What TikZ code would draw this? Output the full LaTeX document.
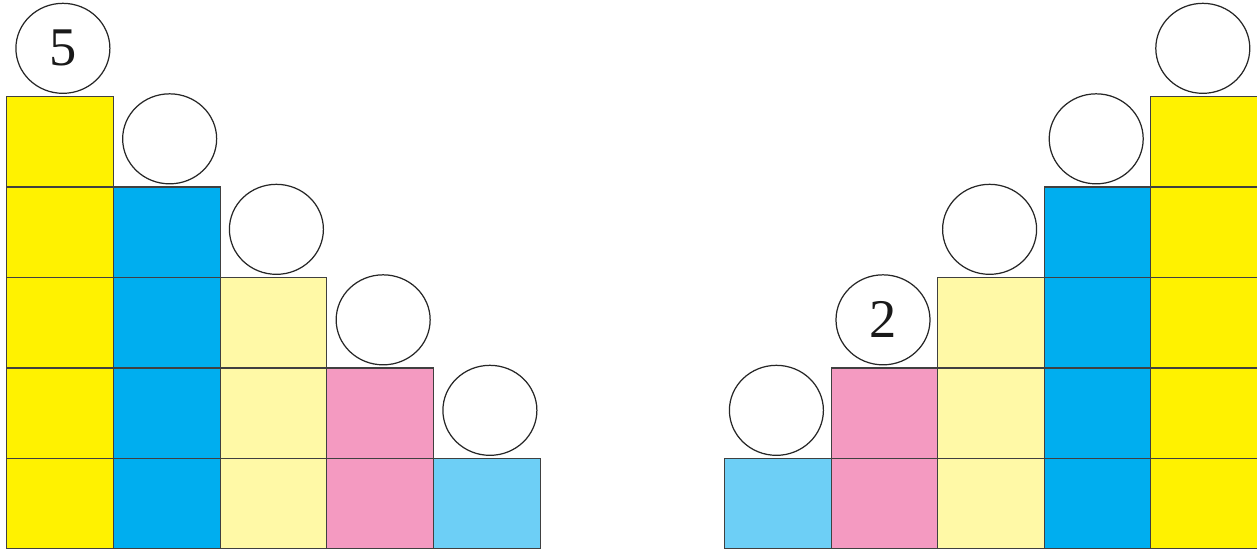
\documentclass[tikz,border=0pt]{standalone}
\usepackage{fontspec}
\setmainfont{Liberation Serif}
\usetikzlibrary{positioning, shapes.geometric}
\definecolor{cubeyellow}{RGB}{255, 242, 0}
\definecolor{cubeblue}{RGB}{0, 174, 239}
\definecolor{paleyellow}{RGB}{255, 249, 166}
\definecolor{cubepink}{RGB}{244, 154, 193}
\definecolor{skyblue}{RGB}{109, 207, 246}
\begin{document}
\begin{tikzpicture}[
  cell/.style={rectangle, draw=black!75, line width=0.6pt, minimum width=2.135cm, minimum height=1.81cm,
    inner sep=0pt, anchor=south west},
  ball/.style={ellipse, draw=black!85, line width=0.7pt, minimum width=1.88cm, minimum height=1.8cm,
    inner sep=0pt},
  given/.style={font=\fontsize{31}{32}\selectfont, text=black!90},
  node distance=0.04cm
]
\useasboundingbox (0,0) rectangle (25.14,10.96);

% Left staircase: tallest column first
\foreach \col/\h/\clr in {0/5/cubeyellow, 1/4/cubeblue, 2/3/paleyellow, 3/2/cubepink, 4/1/skyblue} {
  \foreach \row in {1,...,\h} {
    \node[cell, fill=\clr] (l\col-\row) at ({0.12+2.135*\col}, {-0.03+1.81*(\row-1)}) {};
  }
  \node[ball, above=of l\col-\h, xshift=0.06cm] (lb\col) {};
}

% Right staircase: shortest column first
\foreach \col/\h/\clr in {0/1/skyblue, 1/2/cubepink, 2/3/paleyellow, 3/4/cubeblue, 4/5/cubeyellow} {
  \foreach \row in {1,...,\h} {
    \node[cell, fill=\clr] (r\col-\row) at ({14.48+2.132*\col}, {-0.03+1.81*(\row-1)}) {};
  }
  \node[ball, above=of r\col-\h, xshift=-0.03cm] (rb\col) {};
}

% Given numbers
\node[given] at (lb0) {5};
\node[given] at (rb1) {2};

\end{tikzpicture}
\end{document}
